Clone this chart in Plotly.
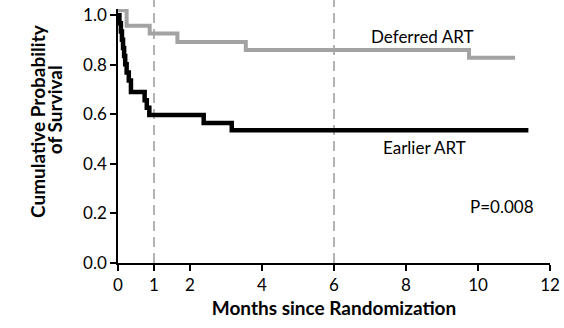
import plotly.graph_objects as go

# Data
earlier_t = [0, 0.04, 0.08, 0.11, 0.14, 0.17, 0.20, 0.24, 0.30, 0.36, 0.74, 0.80, 0.87, 2.38, 3.16, 11.4]
earlier_s = [1.0, 0.967, 0.934, 0.901, 0.868, 0.835, 0.802, 0.769, 0.736, 0.69, 0.657, 0.627, 0.597, 0.565, 0.536, 0.536]

deferred_t = [0, 0.24, 0.88, 1.65, 3.55, 9.75, 11.03]
deferred_s = [1.02, 0.957, 0.926, 0.892, 0.86, 0.828, 0.828]

x_ticks = [0, 1, 2, 4, 6, 8, 10, 12]
y_ticks = [0, 0.2, 0.4, 0.6, 0.8, 1.0]
landmarks = [1, 6]

FONT = "Lato"

fig = go.Figure()
fig.add_trace(go.Scatter(x=deferred_t, y=deferred_s, mode="lines", line_shape="hv",
                         line=dict(color="#a3a3a3", width=4), cliponaxis=False, showlegend=False))
fig.add_trace(go.Scatter(x=earlier_t, y=earlier_s, mode="lines", line_shape="hv",
                         line=dict(color="#000000", width=4.5), cliponaxis=False, showlegend=False))

for lm in landmarks:
    fig.add_shape(type="line", xref="x", yref="paper", x0=lm, x1=lm, y0=0, y1=1.035,
                  line=dict(color="#808080", width=1.2, dash="10px,6px"), layer="below")

fig.add_annotation(x=8.44, y=0.915, text="Deferred ART", showarrow=False,
                   font=dict(family=FONT, size=17, color="black"))
fig.add_annotation(x=8.5, y=0.468, text="Earlier ART", showarrow=False,
                   font=dict(family=FONT, size=17, color="black"))
fig.add_annotation(x=10.68, y=0.228, text="P=0.008", showarrow=False,
                   font=dict(family=FONT, size=17, color="black"))

# y-axis title, two lines as in the reference
fig.add_annotation(xref="paper", yref="paper", x=-0.1875, y=0.559, text="<b>Cumulative Probability</b>",
                   textangle=-90, showarrow=False, xanchor="center", yanchor="middle",
                   font=dict(family=FONT, size=19, color="black"))
fig.add_annotation(xref="paper", yref="paper", x=-0.148, y=0.602, text="<b>of Survival</b>",
                   textangle=-90, showarrow=False, xanchor="center", yanchor="middle",
                   font=dict(family=FONT, size=19, color="black"))

fig.update_layout(
    width=564, height=328,
    margin=dict(l=118, r=14, t=9, b=65),
    plot_bgcolor="white", paper_bgcolor="white",
    font=dict(family=FONT, size=16, color="black"),
)
fig.update_xaxes(range=[0, 12], tickvals=x_ticks, ticktext=[str(v) for v in x_ticks],
                 showgrid=False, zeroline=False, showline=True, linecolor="black", linewidth=1.5,
                 ticks="outside", ticklen=6, tickwidth=1.5, tickcolor="black",
                 tickfont=dict(family=FONT, size=17), automargin=False, ticklabeloverflow="allow",
                 title=dict(text="<b>Months since Randomization</b>", font=dict(family=FONT, size=19), standoff=8))
fig.update_yaxes(range=[0, 1.025], tickvals=y_ticks, ticktext=[f"{v:.1f}" for v in y_ticks],
                 showgrid=False, zeroline=False, showline=True, linecolor="black", linewidth=1.5,
                 ticks="outside", ticklen=6, tickwidth=1.5, tickcolor="black",
                 tickfont=dict(family=FONT, size=17), automargin=False, ticklabeloverflow="allow")

fig.write_html("out.html", config={"displayModeBar": False},
               post_script="document.body.style.margin='0';document.body.style.overflow='hidden';")
